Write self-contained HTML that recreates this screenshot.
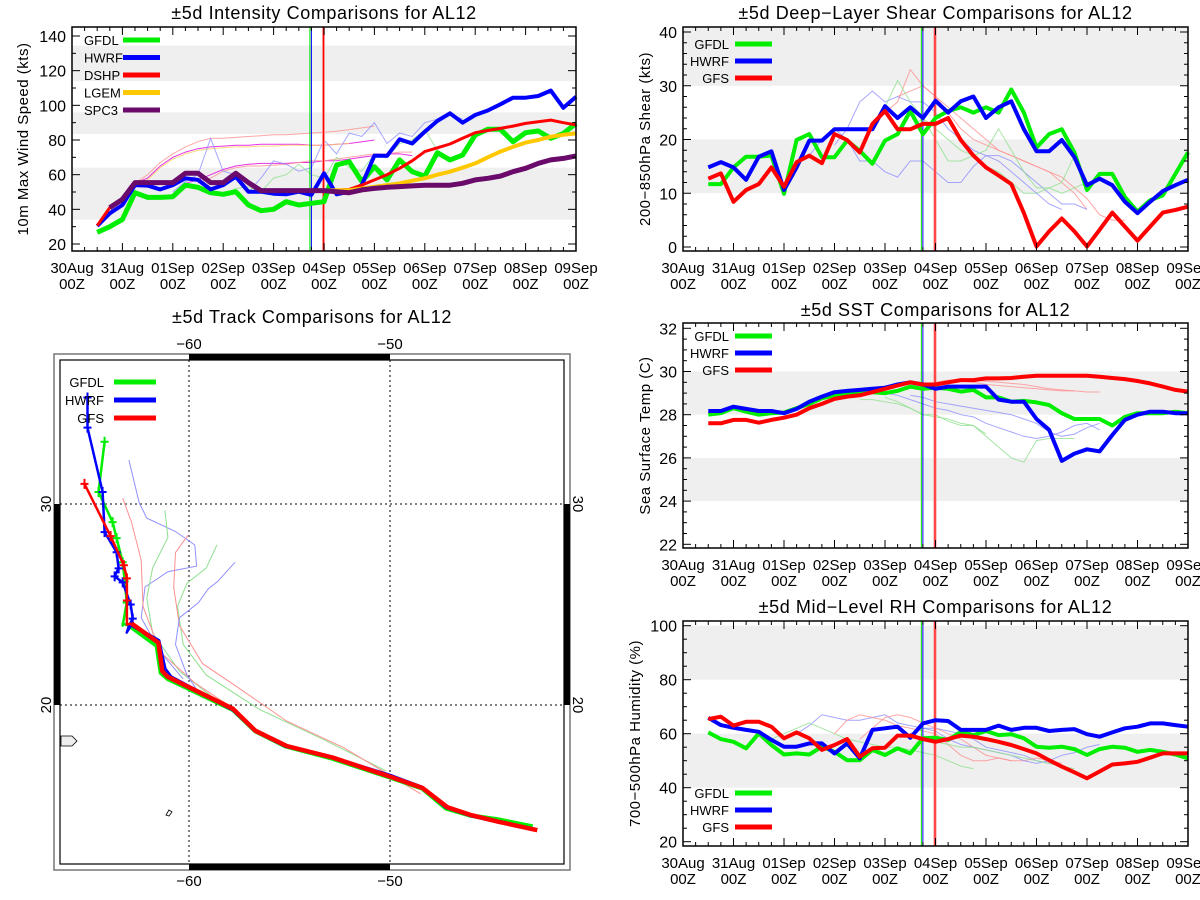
<!DOCTYPE html>
<html><head><meta charset="utf-8"><title>AL12 comparisons</title>
<style>
html,body{margin:0;padding:0;background:#fff;}
svg{display:block;font-family:"Liberation Sans",sans-serif;}
</style></head>
<body>
<svg id="fig" width="1200" height="900" viewBox="0 0 1200 900"></svg>
<script>
// ---------- DATA ----------
const dayLabels=['30Aug','31Aug','01Sep','02Sep','03Sep','04Sep','05Sep','06Sep','07Sep','08Sep','09Sep'];
// intensity (kts), index i -> 30Aug12Z + 6h*i
const intGFDL=[26.7,30,34.2,49.6,46.9,46.9,47.3,54,52.7,49.6,48.7,50.2,42.5,39.2,40,44.4,42.5,43.5,44.4,65.6,67.5,56,64.6,57,68.5,61.7,59.2,72.7,68.5,71.3,82.9,86.2,86.2,79,84.2,85.2,81,83.8,89.6];
const intHWRF=[30.4,37.7,42.5,54,53.7,51.5,54,57.9,57,51.5,54,58.8,50.2,50.2,49,48.7,50.2,48.3,60.8,48.7,50.2,54,71,70.8,80.4,78,84.8,91,95.4,90,94.4,97,100.6,104.4,104.4,105.4,108.5,98.6,105];
const intSPC3=[null,41,45.8,55.4,55.4,55.4,55.4,60.8,60.8,55.4,55.4,60.8,55.4,50.8,50.8,50.8,50.8,50.8,50.8,50.2,49.6,51.2,52.1,52.7,53.1,53.5,53.9,53.9,53.9,55,57,57.9,59.2,61.7,63.7,66.5,68.5,69.4,70.8];
const intDSHP=[30.6,41,45.8,55.4,55.4,55.4,55.4,60.8,60.8,55.4,55.4,60.8,55.4,50.8,50.8,50.8,50.8,50.8,51,51,51.5,54,57,60,63.7,68,73.3,75.5,77.7,81,84.2,85.5,86.7,88,89.6,90.5,91.5,90,88.7];
const intLGEM=[null,null,null,null,null,null,null,null,null,null,null,null,null,null,null,null,null,null,50.8,51,51,52,53,54,55,56.5,57.9,60,61.7,64,66.5,70,73.3,76,78.5,80,81.9,83,83.8];
const intFaintStart=[3,3,3,7,8,6,10];
const intFaintColor=['#ff9090','#e000e0','#ffd060','#e000e0','#ff9090','#9090ff','#90e090'];
const intFaintVals=[
 [55,60,67,72,76,79,81,81,81.5,82,82.5,83,83,83.5,84,84.5,85,86,87,88],
 [55,58,65,70,73,75,76,76.5,77,77,77.5,77.5,77.5,77.5,77,77,77.5,78,79,80],
 [55,57,64,69,72,74,75,75.5,76,76,76.5,76.5,77,77,77,77,77.5,78],
 [55,57,60,63,65,66,66.5,66.5,66.5,67,67,68,68,69,70,71,72,72,71],
 [55,58,62,64,65,65,65.5,66,67,68,68,69,70,71,72,72,73,73],
 [50,56,60,81,62,60,50,58,68,66,62,64,80,72,84,82,90,78,84,82,90,92,95,92],
 [48,52,53,50,58,60,66,60,58,70,64,62,72,70,78,80,86,74,68,72]];
// shear (kts)
const shrGFDL=[11.7,11.7,14.8,16.8,16.8,17,9.9,19.9,21,16.7,16.7,19.8,17.9,15.5,19.8,21,25.3,21,24,25.3,26,25,26,25,29.3,25,18.5,21,21.9,17.6,10.6,13.6,13.6,9.3,6.6,8.7,9.6,13.6,17.6];
const shrHWRF=[14.8,15.8,14.8,12.5,16.8,17.8,10.6,14.8,19.8,19.8,21.9,21.9,21.9,21.9,26.2,24,26,24,27.2,25,27.1,28,24,26,27.1,21.9,17.8,17.8,19.9,16.7,11.5,12.7,11.5,8.4,6.3,8.4,10.4,11.5,12.5];
const shrGFS=[12.7,13.7,8.4,10.6,11.7,14.8,11.2,15.8,17,15.6,21,19.9,17.6,22.9,25.3,21.9,21.9,22.9,22.9,24,19.9,17,14.8,13.3,11.7,6.3,0.1,2.9,5.3,2.9,0.1,3.2,6.4,3.8,1.2,3.8,6.4,6.9,7.5];
const shrFaintStart=[14,15,10,14,6,16];
const shrFaintColor=['#ff9090','#ff9090','#9090ff','#90e090','#9090ff','#90e090'];
const shrFaintVals=[
 [25,27,33,30,28,26,24,22,20,18,17,16,15,14,12,10,7],
 [28,29,30,28,25,22,20,19,18,17,16,15,14,13,11,9,6,5,5],
 [19,22,27,29,27,28,27,27,25,22,20,18,17,17,16,14,12,10,8,8,7],
 [26,31,27,24,22,20,18,17,15,14,12,10,10,11,12,17],
 [11,16,17,20,22,20,16,16,14,13,16,16,14,12,12,15,17,16,14,12,10,8,7],
 [22,24,20,16,16,17,18,22,18,14,11,11,10,11,12]];
// SST (C)
const sstGFDL=[28,28.07,28.3,28.14,28,28.07,28.1,28.3,28.5,28.76,28.9,28.93,29.04,29.04,29,29.1,29.3,29.2,29.25,29.2,29.07,29.15,28.8,28.8,28.6,28.64,28.57,28.45,28.07,27.8,27.8,27.8,27.5,27.9,28.07,28.07,28.07,28.14,28.07];
const sstHWRF=[28.17,28.17,28.37,28.27,28.17,28.17,28.07,28.27,28.6,28.84,29.04,29.1,29.15,29.2,29.25,29.4,29.5,29.4,29.2,29.3,29.3,29.3,29.3,28.7,28.6,28.6,27.8,27.3,25.86,26.2,26.4,26.3,27.06,27.76,28,28.14,28.14,28.07,28.07];
const sstGFS=[27.6,27.6,27.76,27.76,27.63,27.76,27.86,28,28.3,28.5,28.73,28.84,28.9,29.04,29.2,29.35,29.5,29.4,29.4,29.5,29.6,29.6,29.68,29.68,29.7,29.76,29.8,29.8,29.8,29.8,29.8,29.76,29.7,29.65,29.56,29.45,29.3,29.15,29.07];
const sstFaintStart=[14,14,12,18,18,16];
const sstFaintColor=['#9090ff','#90e090','#90e090','#ff9090','#ff9090','#9090ff'];
const sstFaintVals=[
 [29,28.9,28.7,28.5,28.3,28.2,28,27.9,27.6,27.4,27.2,27,26.9,27,27.2,27.5,27.6,27.3],
 [28.8,28.6,28.3,28,28,27.7,27.5,27.5,27,26.5,26,25.8,26.8,26.9,26.9,26.9],
 [28.7,28.7,28.6,28.5,28.3,28,27.9,27.8,27.6,27.5,27.1],
 [29.5,29.6,29.6,29.6,29.55,29.5,29.45,29.4,29.3,29.2,29.15,29.1],
 [29.4,29.5,29.55,29.5,29.4,29.35,29.3,29.25,29.2,29.15,29.1,29.1,29.05,29.05],
 [28.9,28.8,28.6,28.5,28.4,28.3,28.2,28.1,28,27.8,27.6,27.2,27,27.1,27.4,27.6]];
// RH (%)
const rhGFDL=[60.5,58,57,54.6,60.1,55.8,52.3,52.7,52.3,55.2,53.3,50.2,50.2,54,52.1,54.6,52.7,58.3,58.5,57.7,60.7,59.5,61,59.5,59.8,58.3,55.2,54.8,55.2,54.3,52.1,54.3,55.2,54.8,53.3,54,53.3,52.3,50.9];
const rhHWRF=[65.9,63.2,62.2,61.4,60.7,57.7,55.2,55.2,56.4,56.4,52.7,56.4,50.9,61.4,62,62.6,58.5,63.8,65,64.7,61.4,61.4,61.4,63,61.4,62.2,62.2,61,61.4,61.7,59.8,58.9,60.5,62,62.6,63.8,63.8,63.2,62.6];
const rhGFS=[65.4,66.3,63,64.4,64.4,62.6,58.3,60.5,58.3,54,55.8,58,51.5,54.6,54.8,59.3,59.3,58,57,58,59.3,58.9,58,57,55.8,54.3,52.7,50.2,47.8,45.7,43.5,46,48.6,49,49.6,51.1,52.7,52.7,52.7];
const rhFaintStart=[7,5,10,12,16,18];
const rhFaintColor=['#9090ff','#90e090','#ff9090','#ff9090','#9090ff','#90e090'];
const rhFaintVals=[
 [60,63,67,66,65,65,66,67,64,63,62,62,61,60,58,55,54,53,52,50,49,48],
 [58,60,62,64,62,60,58,57,56,55,55,54,53,52,50,48,47],
 [60,65,67,66,65,63,62,61,60,56,52,50,50,51,50],
 [58,62,66,67,66,64,62,60,58,55,52,51,50,50,51,50,49],
 [60,62,61,58,56,55,54,53,52,50,49,50,52,53,55,56],
 [57,56,55,55,54,53,52,51,50,49,48,47]];
// tracks (lon, lat)
const trkGFDLlon=[-42.9,-44.6,-46,-47.2,-48.4,-50,-52.9,-55.2,-56.7,-57.8,-61.05,-61.4,-61.6,-62.9,-63.3,-63.3,-63.1,-63.2,-63.3,-63.6,-63.8,-64.5,-64.2];
const trkGFDLlat=[13.95,14.3,14.5,14.85,15.85,16.4,17.35,17.95,18.7,19.75,21.3,21.6,22.95,23.9,24.05,23.95,25.1,26.15,27.1,28.3,29.1,30.6,33.1];
const trkHWRFlon=[-42.8,-44.7,-46,-47.2,-48.4,-50,-52.9,-55.2,-56.7,-57.8,-60.9,-61.2,-61.5,-62.9,-62.95,-63.1,-63.0,-62.8,-62.9,-63.3,-63.7,-63.5,-63.6,-64.2,-64.3,-65.05,-65.05];
const trkHWRFlat=[13.8,14.2,14.5,14.9,15.9,16.5,17.4,17.95,18.7,19.75,21.4,21.8,23.2,24.0,23.85,23.6,23.9,24.3,25.0,26.1,26.4,26.8,27.6,28.6,30.6,33.8,35.3];
const trkGFSlon=[-42.67,-44.67,-46,-47.14,-48.38,-50,-52.86,-55.14,-56.7,-57.81,-61.05,-61.33,-61.52,-62.86,-63.09,-63.09,-63.09,-63.24,-63.9,-65.2];
const trkGFSlat=[13.77,14.21,14.53,14.91,15.87,16.44,17.39,17.96,18.72,19.81,21.4,21.68,23.1,24.06,24.0,25.2,26.3,26.95,28.4,31.0];
const trkFaintColor=['#9090ff','#90e090','#ff9090','#90e090','#ff9090','#9090ff'];
const trkFaintLon=[
 [-62.99,-62.48,-62.1,-60.67,-59.71,-59.62,-61.05,-62.19,-62.38,-61.43,-60.29],
 [-58.61,-59.14,-60.1,-60.57,-60.29,-59.14,-56.48,-53.24,-50.19],
 [-60.06,-60.67,-60.76,-60.48,-59.33,-57.62,-55.14,-52.29,-48.48],
 [-61.2,-61.05,-61.81,-62.1,-61.81,-60.48,-58.76],
 [-63.3,-62.86,-62.38,-62.29,-61.43,-59.71,-58.0],
 [-57.71,-58.57,-59.05,-59.52,-60.48,-60.67,-60.1,-59.33]];
const trkFaintLat=[
 [32.19,30.06,29.3,28.63,27.96,26.91,26.63,25.87,24.34,22.63,21.3],
 [27.96,26.82,26.06,24.91,23.01,21.49,19.77,18.25,16.72],
 [28.44,27.58,25.87,23.96,22.06,20.91,19.2,17.87,15.58],
 [29.68,28.34,26.82,25.3,23.58,21.68,20.34],
 [30.29,29.1,27.2,24.91,22.63,21.1,19.96],
 [27.1,26.15,25.77,25.1,24.34,23.01,21.49,20.34]];

// ---------- DRAWING ----------
const NS='http://www.w3.org/2000/svg';
const svg=document.getElementById('fig');
function mk(tag,attrs,parent){const e=document.createElementNS(NS,tag);for(const k in attrs)e.setAttribute(k,attrs[k]);(parent||svg).appendChild(e);return e;}
function txt(s,attrs,parent){const e=mk('text',attrs,parent);e.textContent=s;return e;}

function timePanel(p){
  const g=mk('g',{});
  
  
  const X=d=>p.x0+d*(p.x1-p.x0)/10;
  const Xi=i=>X(0.5+0.25*i);
  const Y=v=>p.yA+(v-p.vA)*(p.yB-p.yA)/(p.vB-p.vA);
  p.bands.forEach(b=>{
    const r=mk('rect',{x:p.x0,y:Y(b[1]),width:p.x1-p.x0,height:Y(b[0])-Y(b[1]),fill:'#efefef'},g);
    
    
  });
  p.faint.forEach((vals,k)=>{
    const pts=vals.map((v,j)=>Xi(p.faintStart[k]+j).toFixed(1)+','+Y(v).toFixed(1)).join(' ');
    const l=mk('polyline',{points:pts,fill:'none',stroke:p.faintColor[k],'stroke-width':1,opacity:0.8},g);
    
    
  });
  [[4.72,'#00e000',1],[4.75,'#0000ff',1],[4.99,'#ff9090',3],[4.99,'#ff0000',1]].forEach(v=>{
    const l=mk('line',{x1:X(v[0]),x2:X(v[0]),y1:p.yTop,y2:p.yBot,stroke:v[1],'stroke-width':v[2]},g);
    
    
  });
  p.series.forEach(s=>{
    let segs=[],cur=[];
    s.vals.forEach((v,i)=>{if(v==null){if(cur.length)segs.push(cur);cur=[];}else cur.push(Xi(i).toFixed(1)+','+Y(v).toFixed(1));});
    if(cur.length)segs.push(cur);
    segs.forEach(sg=>{
      const l=mk('polyline',{points:sg.join(' '),fill:'none',stroke:s.color,'stroke-width':s.w,'stroke-linejoin':'round'},g);
      
      
    });
  });
  const fr=mk('rect',{x:p.x0,y:p.yTop,width:p.x1-p.x0,height:p.yBot-p.yTop,fill:'none',stroke:'#000','stroke-width':1.5},g);
  
  
  for(let h=0;h<=240;h+=6){
    const x=X(h/24),len=(h%24===0)?8:4;
    mk('line',{x1:x,x2:x,y1:p.yBot,y2:p.yBot-len,stroke:'#000'},g);
    mk('line',{x1:x,x2:x,y1:p.yTop,y2:p.yTop+len,stroke:'#000'},g);
  }
  dayLabels.forEach((d,i)=>{
    const t=txt(d,{x:X(i),y:p.yBot+22,'text-anchor':'middle','font-size':15},g);
    
    
    const t2=txt('00Z',{x:X(i),y:p.yBot+38,'text-anchor':'middle','font-size':15},g);
    
    
  });
  for(let v=p.ymin;v<=p.ymax+1e-6;v+=p.minor){
    const y=Y(v),maj=Math.abs(((v-p.ymin)/p.major)-Math.round((v-p.ymin)/p.major))<1e-6,len=maj?8:4;
    mk('line',{x1:p.x0,x2:p.x0+len,y1:y,y2:y,stroke:'#000'},g);
    mk('line',{x1:p.x1,x2:p.x1-len,y1:y,y2:y,stroke:'#000'},g);
    if(maj){
      const t=txt(String(Math.round(v)),{x:p.x0-6,y:y+6,'text-anchor':'end','font-size':16},g);
      
      
    }
  }
  const yt=txt(p.ytitle,{x:0,y:0,'text-anchor':'middle','font-size':15,'letter-spacing':0.5,transform:`translate(${p.ytx},${(p.yTop+p.yBot)/2}) rotate(-90)`},g);
  
  
  const tt=txt(p.title,{x:(p.x0+p.x1)/2+p.tdx,y:p.ty,'text-anchor':'middle','font-size':18,'letter-spacing':0.6},g);
  
  
  p.series.forEach((s,k)=>{
    const y=p.legY+k*p.legDy;
    const lt=txt(s.label,{x:p.legTx,y:y+5,'text-anchor':p.legAnchor,'font-size':13},g);
    
    
    const ll=mk('line',{x1:p.legL0,x2:p.legL1,y1:y,y2:y,stroke:s.color,'stroke-width':5},g);
    
    
  });
}

const G='#00ee00',B='#0000ff',R='#ff0000';
timePanel({name:'intensity-chart',x0:72,x1:576,yTop:27,yBot:251,yA:244,vA:20,yB:36,vB:140,ymin:20,ymax:140,major:20,minor:10,
  bands:[[34,64],[83.5,96],[114,134.5]],faint:intFaintVals,faintStart:intFaintStart,faintColor:intFaintColor,
  series:[{label:'GFDL',vals:intGFDL,color:G,w:5},{label:'HWRF',vals:intHWRF,color:B,w:4},{label:'DSHP',vals:intDSHP,color:R,w:3},{label:'LGEM',vals:intLGEM,color:'#ffc800',w:4},{label:'SPC3',vals:intSPC3,color:'#6a0a6a',w:5}],
  ytitle:'10m Max Wind Speed (kts)',ytx:28,title:'±5d Intensity Comparisons for AL12',ty:19,tdx:0,
  legY:40,legDy:17.5,legTx:84,legAnchor:'start',legL0:123,legL1:160});
timePanel({name:'shear-chart',x0:683,x1:1188,yTop:27,yBot:251,yA:247,vA:0,yB:32,vB:40,ymin:0,ymax:40,major:10,minor:2,
  bands:[[10,20],[30,40.8]],faint:shrFaintVals,faintStart:shrFaintStart,faintColor:shrFaintColor,
  series:[{label:'GFDL',vals:shrGFDL,color:G,w:4},{label:'HWRF',vals:shrHWRF,color:B,w:4},{label:'GFS',vals:shrGFS,color:R,w:4}],
  ytitle:'200−850hPa Shear (kts)',ytx:650,title:'±5d Deep−Layer Shear Comparisons for AL12',ty:19,tdx:0,
  legY:44,legDy:17,legTx:729,legAnchor:'end',legL0:735,legL1:772});
timePanel({name:'sst-chart',x0:683,x1:1188,yTop:323,yBot:548,yA:544.3,vA:22,yB:328.3,vB:32,ymin:22,ymax:32,major:2,minor:0.5,
  bands:[[24,26],[28,30]],faint:sstFaintVals,faintStart:sstFaintStart,faintColor:sstFaintColor,
  series:[{label:'GFDL',vals:sstGFDL,color:G,w:4},{label:'HWRF',vals:sstHWRF,color:B,w:4},{label:'GFS',vals:sstGFS,color:R,w:4}],
  ytitle:'Sea Surface Temp (C)',ytx:650,title:'±5d SST Comparisons for AL12',ty:316,tdx:0,
  legY:336,legDy:17,legTx:729,legAnchor:'end',legL0:735,legL1:772});
timePanel({name:'rh-chart',x0:683,x1:1188,yTop:621,yBot:846,yA:841.7,vA:20,yB:625.7,vB:100,ymin:20,ymax:100,major:20,minor:5,
  bands:[[40,60],[80,100]],faint:rhFaintVals,faintStart:rhFaintStart,faintColor:rhFaintColor,
  series:[{label:'GFDL',vals:rhGFDL,color:G,w:4},{label:'HWRF',vals:rhHWRF,color:B,w:4},{label:'GFS',vals:rhGFS,color:R,w:4}],
  ytitle:'700−500hPa Humidity (%)',ytx:640,title:'±5d Mid−Level RH Comparisons for AL12',ty:613,tdx:0,
  legY:793,legDy:17,legTx:729,legAnchor:'end',legL0:735,legL1:772});

// ---------- track map ----------
(function(){
  const g=mk('g',{});
  
  
  const LX=lon=>189+(lon+60)*20.1;
  const LY=lat=>504-(lat-30)*20.1;
  const o=mk('rect',{x:54,y:354,width:516,height:516,fill:'#fff',stroke:'#777','stroke-width':1.5},g);
  
  
  [[189,354,201,6],[189,864,201,6],[54,504,6,201],[564,504,6,201]].forEach(b=>{
    const r=mk('rect',{x:b[0],y:b[1],width:b[2],height:b[3],fill:'#000'},g);
    
    
  });
  [-60,-50].forEach(lon=>{mk('line',{x1:LX(lon),x2:LX(lon),y1:360,y2:864,stroke:'#000','stroke-dasharray':'2,3'},g);});
  [30,20].forEach(lat=>{mk('line',{x1:60,x2:564,y1:LY(lat),y2:LY(lat),stroke:'#000','stroke-dasharray':'2,3'},g);});
  const land=mk('path',{d:'M61,736 L72,736 L77,741 L72,746 L61,746 Z',fill:'#eee',stroke:'#000','stroke-width':0.8},g);
  
  
  const isl=mk('path',{d:'M166,815 L169,810 L172,812 L169,816 Z',fill:'none',stroke:'#000','stroke-width':0.8},g);
  
  
  trkFaintLon.forEach((lons,k)=>{
    const pts=lons.map((lo,j)=>LX(lo).toFixed(1)+','+LY(trkFaintLat[k][j]).toFixed(1)).join(' ');
    const l=mk('polyline',{points:pts,fill:'none',stroke:trkFaintColor[k],'stroke-width':1},g);
    
    
  });
  const tracks=[{label:'GFDL',lon:trkGFDLlon,lat:trkGFDLlat,color:G,w:4.5},{label:'HWRF',lon:trkHWRFlon,lat:trkHWRFlat,color:B,w:3.5},{label:'GFS',lon:trkGFSlon,lat:trkGFSlat,color:R,w:4.5}];
  tracks.forEach(t=>{
    const pts=t.lon.map((lo,j)=>LX(lo).toFixed(1)+','+LY(t.lat[j]).toFixed(1));
    const main=mk('polyline',{points:pts.slice(0,14).join(' '),fill:'none',stroke:t.color,'stroke-width':t.w,'stroke-linejoin':'round'},g);
    
    
    const tail=mk('polyline',{points:pts.slice(13).join(' '),fill:'none',stroke:t.color,'stroke-width':2.5,'stroke-linejoin':'round'},g);
    
    
    t.lon.forEach((lo,j)=>{
      if(t.lat[j]<24.2)return;
      const x=LX(lo),y=LY(t.lat[j]);
      const m=mk('path',{d:`M${x-4},${y} H${x+4} M${x},${y-5} V${y+5}`,stroke:t.color,'stroke-width':2},g);
      
      
    });
  });
  const fr=mk('rect',{x:60,y:360,width:504,height:504,fill:'none',stroke:'#000','stroke-width':1.2},g);
  
  
  [[-60,'−60'],[-50,'−50']].forEach(a=>{
    const t1=txt(a[1],{x:LX(a[0]),y:349,'text-anchor':'middle','font-size':15},g);
    
    
    const t2=txt(a[1],{x:LX(a[0]),y:886,'text-anchor':'middle','font-size':15},g);
    
    
  });
  [30,20].forEach(lat=>{
    const t1=txt(String(lat),{x:0,y:0,'text-anchor':'middle','font-size':15,transform:`translate(51,${LY(lat)}) rotate(-90)`},g);
    
    
    const t2=txt(String(lat),{x:0,y:0,'text-anchor':'middle','font-size':15,transform:`translate(573,${LY(lat)}) rotate(90)`},g);
    
    
  });
  const tt=txt('±5d Track Comparisons for AL12',{x:312,y:323,'text-anchor':'middle','font-size':18,'letter-spacing':0.6},g);
  
  
  tracks.forEach((t,k)=>{
    const y=382+k*18;
    const lt=txt(t.label,{x:104,y:y+5,'text-anchor':'end','font-size':13},g);
    
    
    const ll=mk('line',{x1:114,x2:156,y1:y,y2:y,stroke:t.color,'stroke-width':5},g);
    
    
  });
})();
</script>
</body></html>
